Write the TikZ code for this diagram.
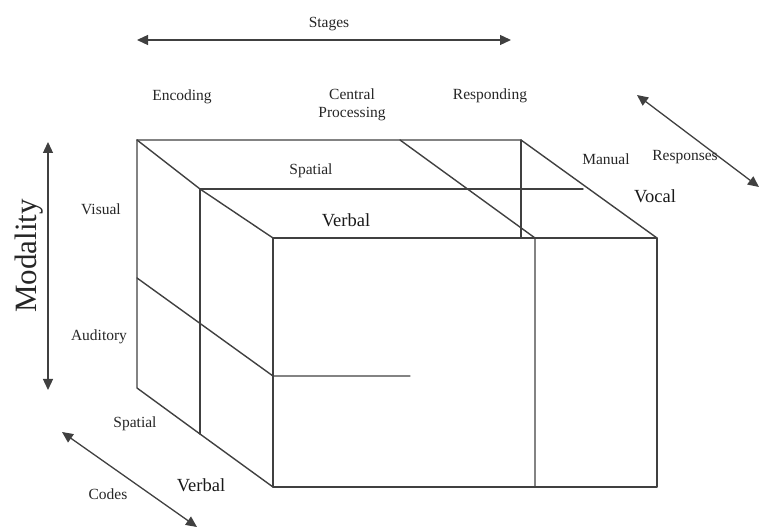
\documentclass[tikz,border=0pt]{standalone}
\usepackage{fontspec}
\setmainfont{Liberation Serif}
\usetikzlibrary{arrows.meta}
\begin{document}
\begin{tikzpicture}[x=1pt,y=-1pt,
  edge/.style={line width=1.4pt, draw=black!75, line cap=round, line join=round},
  dimarrow/.style={line width=1.3pt, draw=black!75, {Triangle[length=11pt,width=10pt]}-{Triangle[length=11pt,width=10pt]}},
  lbl/.style={font=\fontsize{15.5}{17}\selectfont, inner sep=0pt, text=black!85},
  biglbl/.style={font=\fontsize{18.5}{20}\selectfont, inner sep=0pt, text=black!90}]
\useasboundingbox (0,0) rectangle (761,529);
% cube corners
\coordinate (A) at (137,140);
\coordinate (B) at (521,140);
\coordinate (C) at (273,238);
\coordinate (D) at (657,238);
\coordinate (E) at (273,487);
\coordinate (F) at (657,487);
\coordinate (G) at (137,388);
\coordinate (M1) at (200,189);
\coordinate (M2) at (583,189);
\coordinate (M3) at (200,434);
\coordinate (P1) at (400,140);
\coordinate (P2) at (535,238);
\coordinate (P3) at (535,487);
\coordinate (Q1) at (521,238);
\coordinate (L1) at (137,278);
\coordinate (L2) at (273,376);
\coordinate (L3) at (410,376);
% cube
\draw[edge] (A) -- (B) -- (D);
\draw[edge] (A) -- (M1) -- (C);
\draw[edge] (C) -- (D) -- (F) -- (E) -- cycle;
\draw[edge] (A) -- (G) -- (M3) -- (E);
\draw[edge] (M1) -- (M2);
\draw[edge] (M1) -- (M3);
\draw[edge] (P1) -- (P2) -- (P3);
\draw[edge] (B) -- (Q1);
\draw[edge] (L1) -- (L2) -- (L3);
% dimension arrows
\coordinate (S1) at (137,40);
\coordinate (S2) at (511,40);
\coordinate (Mo1) at (48,142);
\coordinate (Mo2) at (48,390);
\coordinate (Co1) at (62,432);
\coordinate (Co2) at (197,527);
\coordinate (R1) at (637,95);
\coordinate (R2) at (759,187);
\draw[dimarrow] (S1) -- (S2);
\draw[dimarrow] (Mo1) -- (Mo2);
\draw[dimarrow] (Co1) -- (Co2);
\draw[dimarrow] (R1) -- (R2);
% labels
\node[lbl] (stages) at (329,24) {Stages};
\node[lbl] (enc) at (182,97) {Encoding};
\node[lbl, align=center, font=\fontsize{15.5}{17.5}\selectfont] (cp) at (352,105) {Central\\Processing};
\node[lbl] (resp) at (490,96) {Responding};
\node[lbl] (man) at (606,159) {Manual};
\node[lbl] (resps) at (685,157) {Responses};
\node[biglbl] (voc) at (655,196) {Vocal};
\node[lbl] (spt) at (311,171) {Spatial};
\node[biglbl] (vbt) at (346,220) {Verbal};
\node[lbl] (vis) at (101,209) {Visual};
\node[lbl] (aud) at (99,337) {Auditory};
\node[lbl] (spb) at (135,424) {Spatial};
\node[biglbl] (vbb) at (201,485) {Verbal};
\node[lbl] (codes) at (108,494) {Codes};
\node[font=\fontsize{31}{33}\selectfont, rotate=90, inner sep=0pt, text=black!85] (mod) at (29,256) {Modality};
\end{tikzpicture}
\end{document}
